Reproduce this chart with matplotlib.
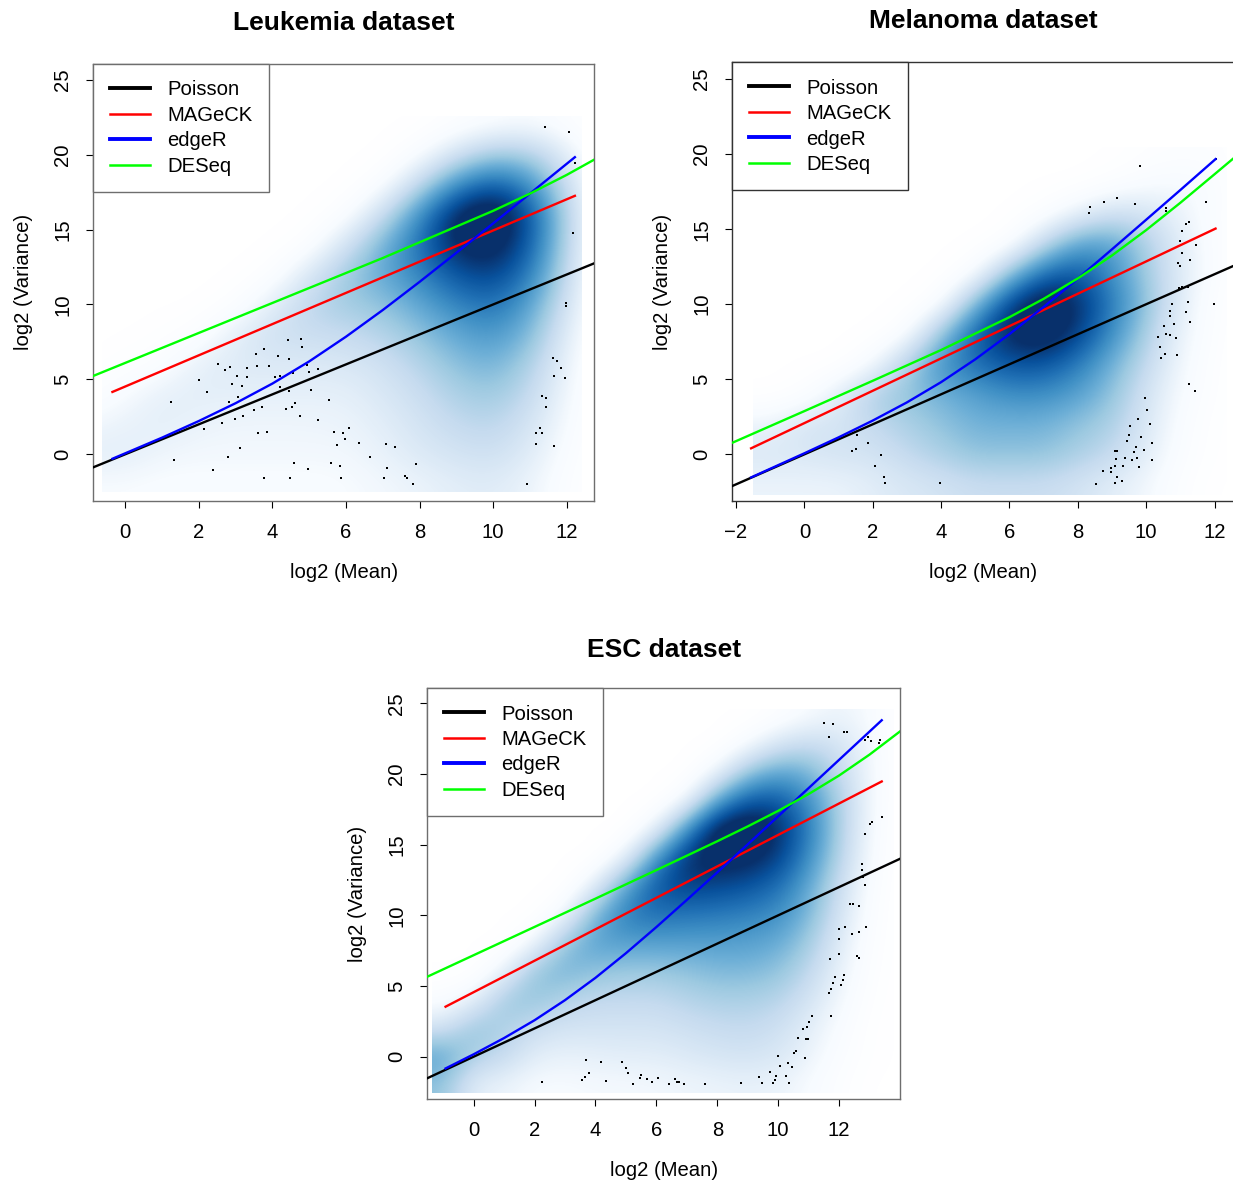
import numpy as np
import matplotlib
matplotlib.use("Agg")
import matplotlib.pyplot as plt
from matplotlib.colors import LinearSegmentedColormap
from matplotlib.lines import Line2D
from matplotlib.patches import Rectangle

# ---------------- data ----------------
legend_labels = ["Poisson", "MAGeCK", "edgeR", "DESeq"]
yticks = [0, 5, 10, 15, 20, 25]

# Poisson line: variance = mean  (intercept, slope in log2 space)
poisson_line = [0.0, 1.0]

# ---- Leukemia ----
leuk_title = "Leukemia dataset"
leuk_xticks = [0, 2, 4, 6, 8, 10, 12]
leuk_xlim = [-0.87, 12.74]
leuk_ylim = [-3.1, 26.05]
leuk_mageck_x = [-0.35, 12.22]
leuk_mageck_y = [4.16, 17.25]
leuk_edger_x = [-0.35, 1, 2, 3, 4, 5, 6, 7, 8, 9, 10, 11, 12.22]
leuk_edger_y = [-0.30, 1.11, 2.22, 3.41, 4.72, 6.20, 7.85, 9.63, 11.51, 13.45, 15.41, 17.40, 19.83]
leuk_deseq_x = [-0.87, 1, 3, 5, 7, 8, 9, 10, 11, 12, 12.77]
leuk_deseq_y = [5.23, 7.10, 9.10, 11.10, 13.10, 14.15, 15.20, 16.25, 17.40, 18.65, 19.70]
leuk_dots_x = [1.24, 1.33, 1.99, 2.21, 2.14, 2.38, 2.51, 2.64, 2.72, 2.79, 2.83, 2.85, 2.89, 2.99, 3.03,
               3.06, 3.11, 3.18, 3.21, 3.31, 3.32, 3.51, 3.56, 3.57, 3.60, 3.71, 3.78, 3.78, 3.86, 3.91,
               4.07, 4.16, 4.20, 4.21, 4.38, 4.41, 4.46, 4.46, 4.48, 4.54, 4.56, 4.58, 4.61, 4.74, 4.78,
               4.79, 4.94, 4.96, 4.99, 5.04, 5.23, 5.23, 5.53, 5.59, 5.66, 5.76, 5.83, 5.86, 5.91, 5.96,
               6.08, 6.34, 6.66, 7.04, 7.08, 7.10, 7.32, 7.60, 7.65, 7.83, 7.90, 10.93, 11.17, 11.26, 11.17,
               11.33, 11.34, 11.43, 11.43, 11.63, 11.73, 11.66, 11.84, 11.66, 11.95, 11.97, 11.97, 12.16,
               12.22, 11.42, 12.06]
leuk_dots_y = [3.47, -0.38, 4.96, 4.18, 1.69, -1.03, 6.03, 2.07, 5.61, -0.20, 3.51, 5.81, 4.71, 2.38, 5.25,
               3.83, 0.44, 4.56, 2.54, 5.78, 5.14, 2.94, 6.68, 5.87, 1.42, 3.16, 7.05, -1.56, 1.51, 5.89,
               5.14, 6.54, 5.25, 4.51, 3.00, 7.65, 4.23, 6.36, -1.56, 3.16, 5.45, -0.56, 3.42, 2.54, 7.72,
               7.18, 5.94, -1.00, 5.49, 4.31, 5.67, 2.31, 3.62, -0.56, 1.51, 0.60, -0.76, -1.58, 1.42, 1.00,
               1.74, 0.73, -0.16, -1.60, 0.69, -0.93, 0.51, -1.45, -1.60, -1.98, -0.65, -2.00, 1.40, 1.78, 0.69,
               1.40, 3.91, 3.74, 3.14, 6.45, 6.25, 5.25, 5.74, 0.57, 5.11, 10.08, 9.90, 14.79,
               19.43, 21.87, 21.54]
# smoothed density, shade level 0 (white) .. 9 (darkest); columns x=-1..13, rows y=22..-2 (step 2)
leuk_dens_x = [-1, 13]
leuk_dens_y = [-2, 22]
leuk_dens_bounds = [-0.63, 12.4, -2.5, 22.6]
leuk_density = [
    [0, 0, 0, 0, 0, 0, 0, 0, 0, 0, 0.3, 0.6, 0.8, 0.4, 0],
    [0, 0, 0, 0, 0, 0, 0, 0, 0, 0.6, 2.0, 3.2, 3.0, 1.5, 0],
    [0, 0, 0, 0, 0, 0, 0, 0, 0.5, 2.5, 5.0, 6.3, 5.0, 2.3, 0],
    [0, 0, 0, 0, 0, 0, 0, 0.4, 2.3, 5.0, 7.8, 8.8, 6.5, 2.8, 0],
    [0, 0, 0, 0, 0, 0, 0.3, 2.0, 4.0, 5.8, 7.8, 8.2, 6.3, 2.7, 0],
    [0, 0, 0, 0, 0, 0.3, 1.8, 3.3, 4.3, 5.3, 6.5, 7.0, 5.5, 2.4, 0],
    [0, 0, 0, 0, 0.3, 1.5, 2.7, 3.2, 3.5, 4.3, 5.3, 5.8, 4.5, 2.0, 0],
    [0, 0, 0.1, 0.4, 1.5, 2.2, 2.3, 2.4, 2.8, 3.5, 4.3, 4.8, 3.8, 1.5, 0],
    [0, 0.2, 0.5, 1.4, 1.7, 1.7, 1.7, 1.8, 2.1, 2.8, 3.6, 4.0, 3.0, 1.2, 0],
    [0.3, 0.8, 1.4, 1.5, 1.4, 1.4, 1.4, 1.4, 1.8, 2.3, 3.0, 3.3, 2.5, 1.0, 0],
    [1.0, 1.3, 1.5, 1.2, 1.1, 1.1, 1.1, 1.2, 1.5, 2.0, 2.5, 2.7, 2.0, 0.8, 0],
    [1.5, 1.5, 1.1, 1.0, 1.0, 1.0, 1.0, 1.0, 1.3, 1.7, 2.0, 2.2, 1.6, 0.6, 0],
    [0.8, 0.8, 0.7, 0.7, 0.7, 0.7, 0.7, 0.8, 1.0, 1.2, 1.5, 1.6, 1.2, 0.4, 0],
]

# ---- Melanoma ----
mel_title = "Melanoma dataset"
mel_xticks = [-2, 0, 2, 4, 6, 8, 10, 12]
mel_xlim = [-2.11, 12.57]
mel_ylim = [-3.09, 26.12]
mel_mageck_x = [-1.56, 12.03]
mel_mageck_y = [0.40, 15.04]
mel_edger_x = [-1.56, 0, 1, 2, 3, 4, 5, 6, 7, 8, 9, 10, 11, 12.03]
mel_edger_y = [-1.54, 0.07, 1.13, 2.25, 3.46, 4.81, 6.33, 8.01, 9.82, 11.71, 13.66, 15.63, 17.61, 19.67]
mel_deseq_x = [-2.11, 0, 2, 4, 6, 7, 8, 9, 10, 11, 12, 12.57]
mel_deseq_y = [0.77, 2.88, 4.90, 6.95, 9.14, 10.36, 11.72, 13.25, 14.94, 16.76, 18.66, 19.75]
mel_dots_x = [1.55, 1.87, 1.39, 1.50, 2.25, 2.06, 2.33, 2.36, 3.97,
              9.81, 8.35, 8.33, 8.76, 9.16, 9.67, 10.57, 10.59, 11.74, 11.16, 11.24, 11.06, 11.00, 11.47,
              11.04, 11.27, 10.93, 11.00, 10.96, 11.22, 11.05, 10.77, 11.22, 10.69, 10.69, 11.16, 11.99,
              10.51, 10.81, 11.29, 10.36, 10.57, 10.69, 10.87, 10.41, 10.55, 10.90, 10.44, 12.03, 11.25, 11.44,
              9.98, 10.03, 9.76, 10.11, 9.54, 9.50, 9.86, 9.43, 10.17, 9.69, 9.08, 9.16, 9.94, 9.64, 9.39,
              9.60, 9.74, 10.16, 9.13, 9.32, 9.10, 8.96, 8.74, 9.78, 8.98, 9.16, 9.28, 9.08, 8.54]
mel_dots_y = [1.31, 0.77, 0.24, 0.35, -0.03, -0.78, -1.51, -1.91, -1.93,
              19.19, 16.48, 16.10, 16.83, 17.08, 16.68, 16.43, 16.20, 16.83, 15.36, 15.48, 14.86, 14.19, 13.94,
              13.41, 12.92, 12.74, 12.54, 11.10, 11.12, 11.15, 9.99, 10.13, 9.53, 9.21, 9.46, 9.99,
              8.53, 8.66, 8.79, 7.81, 8.01, 7.95, 7.75, 7.13, 6.66, 6.60, 6.40, 19.65, 4.66, 4.22,
              3.77, 2.95, 2.33, 2.02, 1.90, 1.29, 1.17, 0.91, 0.77, 0.47, 0.22, 0.22, 0.29, 0.17, -0.27,
              -0.40, -0.23, -0.38, -0.31, -0.76, -0.76, -0.93, -1.09, -0.85, -1.20, -1.49, -1.78, -1.93, -1.98]
mel_dens_x = [-1, 13]
mel_dens_y = [-2, 20]
mel_dens_bounds = [-1.5, 12.35, -2.7, 20.5]
mel_density = [
    [0, 0, 0, 0, 0, 0, 0, 0, 0, 0, 0, 0.2, 0.3, 0.3, 0],
    [0, 0, 0, 0, 0, 0, 0, 0, 0, 0, 0.3, 0.7, 0.9, 0.6, 0],
    [0, 0, 0, 0, 0, 0, 0, 0, 0.3, 1.3, 2.2, 2.0, 1.2, 0.5, 0],
    [0, 0, 0, 0, 0, 0, 0, 0.3, 2.5, 4.5, 4.5, 3.0, 1.5, 0.5, 0],
    [0, 0, 0, 0, 0, 0, 0.6, 3.5, 6.0, 6.5, 5.0, 3.2, 1.6, 0.5, 0],
    [0, 0, 0, 0, 0, 0.5, 3.8, 7.0, 8.5, 7.5, 5.5, 3.5, 1.5, 0.3, 0],
    [0, 0, 0, 0, 0.5, 3.5, 6.3, 7.8, 8.3, 7.0, 5.0, 3.0, 1.2, 0.3, 0],
    [0, 0, 0, 0.8, 3.0, 5.0, 5.8, 6.5, 6.5, 5.5, 4.0, 2.5, 1.0, 0.2, 0],
    [0, 0.3, 1.5, 3.0, 3.5, 4.0, 4.5, 5.0, 5.0, 4.5, 3.5, 2.0, 0.8, 0.2, 0],
    [1.2, 2.0, 2.0, 2.5, 3.0, 3.5, 4.0, 4.0, 4.0, 3.5, 3.0, 1.8, 0.6, 0.1, 0],
    [1.8, 1.8, 2.0, 2.0, 2.5, 3.0, 3.5, 3.5, 3.5, 3.0, 2.5, 1.5, 0.5, 0.1, 0],
    [1.2, 1.2, 1.2, 1.5, 1.8, 2.0, 2.3, 2.3, 2.3, 2.0, 1.5, 1.0, 0.3, 0, 0],
]

# ---- ESC ----
esc_title = "ESC dataset"
esc_xticks = [0, 2, 4, 6, 8, 10, 12]
esc_xlim = [-1.52, 14.0]
esc_ylim = [-2.99, 26.06]
esc_mageck_x = [-0.92, 13.4]
esc_mageck_y = [3.54, 19.47]
esc_edger_x = [-0.92, 0, 1, 2, 3, 4, 5, 6, 7, 8, 9, 10, 11, 12, 13.4]
esc_edger_y = [-0.83, 0.17, 1.32, 2.58, 4.00, 5.58, 7.32, 9.17, 11.09, 13.04, 15.02, 17.01, 19.00, 21.00, 23.80]
esc_deseq_x = [-1.52, 0, 2, 4, 6, 8, 9, 10, 11, 12, 13, 14.0]
esc_deseq_y = [5.66, 7.18, 9.18, 11.18, 13.20, 15.24, 16.29, 17.39, 18.58, 19.89, 21.37, 23.01]
esc_dots_x = [2.25, 3.56, 3.67, 3.80, 3.69, 4.19, 4.34, 4.87, 5.00, 5.08, 5.22, 5.46, 5.50, 5.68, 5.87,
              6.07, 6.42, 6.62, 6.69, 6.75, 6.92, 7.61, 8.78, 9.38, 9.47, 9.73, 9.82, 9.88, 9.93, 10.06,
              9.99, 10.26, 10.34, 10.31, 10.45, 10.52, 10.59, 10.66, 10.88, 10.81, 10.92, 10.99, 10.94, 11.02,
              11.10, 11.73, 11.68, 11.73, 11.81, 11.88, 12.05, 12.12, 12.17, 11.70, 12.01, 12.58, 12.66, 11.99,
              12.43, 12.66, 12.88, 11.99, 12.20, 12.36, 12.47, 12.66, 12.85, 12.78, 12.74, 12.74, 12.85, 13.02,
              13.07, 13.40, 11.52, 11.81, 11.66, 12.16, 12.27, 12.86, 12.96, 13.04, 13.32, 13.34]
esc_dots_y = [-1.79, -1.65, -1.41, -1.13, -0.26, -0.35, -1.72, -0.37, -0.78, -1.13, -1.93, -1.53, -1.27, -1.58, -1.81,
              -1.51, -1.95, -1.60, -1.81, -1.81, -1.91, -1.93, -1.88, -1.46, -1.84, -1.08, -1.84, -1.65, -1.37, -0.66,
              0.05, -1.37, -1.88, -0.42, -0.71, 0.24, 0.42, 1.30, -0.07, 1.94, 1.23, 1.23, 2.12, 2.48,
              2.88, 2.88, 4.53, 4.77, 5.19, 5.66, 5.07, 5.42, 5.76, 6.89, 7.26, 7.12, 6.96, 8.30,
              8.66, 8.84, 9.15, 9.01, 9.19, 10.78, 10.80, 10.66, 12.16, 12.69, 13.20, 13.60, 15.75, 16.46,
              16.60, 16.97, 23.58, 23.51, 22.63, 22.98, 22.98, 22.40, 22.63, 22.35, 22.16, 22.40]
esc_dens_x = [-1, 14]
esc_dens_y = [-2, 24]
esc_dens_bounds = [-1.36, 13.78, -2.6, 24.6]
esc_density = [
    [0, 0, 0, 0, 0, 0, 0, 0, 0, 0, 0, 0.3, 0.8, 1.2, 0.8, 0],
    [0, 0, 0, 0, 0, 0, 0, 0, 0, 0, 0.8, 2.0, 2.5, 2.0, 1.0, 0],
    [0, 0, 0, 0, 0, 0, 0, 0, 0, 1.2, 3.5, 4.5, 4.0, 2.5, 1.0, 0],
    [0, 0, 0, 0, 0, 0, 0, 0, 1.0, 4.5, 6.5, 6.5, 5.0, 3.0, 1.0, 0],
    [0, 0, 0, 0, 0, 0, 0, 1.3, 5.0, 8.3, 8.7, 7.5, 5.5, 3.0, 0.9, 0],
    [0, 0, 0, 0, 0, 0, 1.3, 5.0, 7.5, 8.0, 7.8, 7.0, 5.0, 2.8, 0.8, 0],
    [0, 0, 0, 0, 0, 1.5, 4.5, 6.5, 7.0, 6.8, 6.5, 5.8, 4.3, 2.3, 0.6, 0],
    [0, 0, 0, 0, 1.0, 4.0, 5.5, 5.8, 5.6, 5.5, 5.3, 5.0, 3.8, 2.0, 0.5, 0],
    [0, 0, 0, 1.0, 3.5, 4.5, 4.5, 4.5, 4.5, 4.5, 4.5, 4.2, 3.2, 1.6, 0.4, 0],
    [0, 0, 1.2, 3.5, 4.0, 3.5, 3.3, 3.3, 3.5, 3.8, 3.8, 3.5, 2.6, 1.3, 0.3, 0],
    [0.5, 1.3, 3.3, 3.5, 2.8, 2.5, 2.5, 2.5, 2.8, 3.0, 3.0, 2.8, 2.0, 1.0, 0.2, 0],
    [2.0, 3.5, 3.0, 2.3, 2.0, 2.0, 2.0, 2.0, 2.2, 2.4, 2.5, 2.2, 1.5, 0.7, 0.1, 0],
    [4.5, 3.0, 2.5, 1.5, 1.3, 1.4, 1.5, 1.5, 1.7, 1.9, 2.0, 1.8, 1.2, 0.5, 0.1, 0],
    [3.5, 1.5, 1.2, 0.8, 0.8, 0.9, 0.9, 1.0, 1.1, 1.2, 1.3, 1.2, 0.8, 0.3, 0, 0],
]

# ---------------- style ----------------
plt.rcParams['font.family'] = ['Liberation Sans', 'DejaVu Sans']
FS = 14.6
shade_colors = ["#FFFFFF", "#F7FBFF", "#DEEBF7", "#C6DBEF", "#9ECAE1",
                "#6BAED6", "#4292C6", "#2171B5", "#08519C", "#08306B"]
cmap = LinearSegmentedColormap.from_list("smooth_blues", shade_colors, N=256)
SHADE_MAX = 7.4   # level shown as darkest colour

W, H = 1233, 1181
fig = plt.figure(figsize=(W / 100, H / 100), dpi=100)


def px_axes(l, t, r, b):
    return [l / W, (H - b) / H, (r - l) / W, (b - t) / H]


def draw_panel(rect, title, title_pad, xticks, xlim, ylim, mx, my, ex, ey, dx, dy, ptx, pty,
               dens, dxr, dyr, bounds, spine_color):
    ax = fig.add_axes(rect)
    dens = np.asarray(dens, dtype=float)
    nrow, ncol = dens.shape
    hx = (dxr[1] - dxr[0]) / (ncol - 1) / 2
    hy = (dyr[1] - dyr[0]) / (nrow - 1) / 2
    im = ax.imshow(dens, extent=(dxr[0] - hx, dxr[1] + hx, dyr[0] - hy, dyr[1] + hy),
                   origin="upper", cmap=cmap, vmin=0, vmax=SHADE_MAX, aspect="auto",
                   interpolation="bicubic", interpolation_stage="data", zorder=0)
    clip = Rectangle((bounds[0], bounds[2]), bounds[1] - bounds[0], bounds[3] - bounds[2],
                     transform=ax.transData, facecolor="none", edgecolor="none")
    im.set_clip_path(clip)

    ax.scatter(ptx, pty, s=4.0, marker="s", c="black", linewidths=0, zorder=2)
    ax.axline((0, poisson_line[0]), slope=poisson_line[1], color="black", lw=1.7, zorder=3)
    ax.plot(mx, my, color="#FF0000", lw=1.7, zorder=3)
    ax.plot(ex, ey, color="#0000FF", lw=1.7, zorder=3)
    ax.plot(dx, dy, color="#00FF00", lw=1.7, zorder=3)

    ax.set_xlim(xlim)
    ax.set_ylim(ylim)
    ax.set_xticks(xticks)
    ax.set_yticks(yticks)
    ax.set_yticklabels([str(v) for v in yticks], rotation=90, va="center")
    ax.tick_params(axis="both", direction="out", length=5, width=0.8, colors="black",
                   labelsize=FS)
    ax.tick_params(axis="x", pad=11)
    ax.tick_params(axis="y", pad=10)
    for sp in ax.spines.values():
        sp.set_color(spine_color)
        sp.set_linewidth(1.0)
    ax.set_xlabel("log2 (Mean)", fontsize=FS, labelpad=15)
    ax.set_ylabel("log2 (Variance)", fontsize=FS, labelpad=15)
    ax.set_title(title, fontsize=19, fontweight="bold", pad=title_pad)

    handles = [Line2D([], [], color="black", lw=2.8),
               Line2D([], [], color="#FF0000", lw=1.8),
               Line2D([], [], color="#0000FF", lw=2.8),
               Line2D([], [], color="#00FF00", lw=1.8)]
    leg = ax.legend(handles, legend_labels, loc="upper left", bbox_to_anchor=(0, 1),
                    borderaxespad=0, fontsize=FS, frameon=True, fancybox=False,
                    framealpha=1, edgecolor=spine_color, handlelength=2.0,
                    handletextpad=0.85, borderpad=0.8, labelspacing=0.32)
    leg.get_frame().set_linewidth(1.0)
    leg.set_zorder(5)
    return ax


draw_panel(px_axes(93.3, 64, 594, 500.7), leuk_title, 24.5, leuk_xticks, leuk_xlim, leuk_ylim,
           leuk_mageck_x, leuk_mageck_y, leuk_edger_x, leuk_edger_y, leuk_deseq_x, leuk_deseq_y,
           leuk_dots_x, leuk_dots_y, leuk_density, leuk_dens_x, leuk_dens_y, leuk_dens_bounds, "#6e6e6e")
draw_panel(px_axes(732.3, 62.3, 1234, 500.7), mel_title, 24.5, mel_xticks, mel_xlim, mel_ylim,
           mel_mageck_x, mel_mageck_y, mel_edger_x, mel_edger_y, mel_deseq_x, mel_deseq_y,
           mel_dots_x, mel_dots_y, mel_density, mel_dens_x, mel_dens_y, mel_dens_bounds, "#333333")
draw_panel(px_axes(427.3, 688.3, 900, 1099), esc_title, 22.5, esc_xticks, esc_xlim, esc_ylim,
           esc_mageck_x, esc_mageck_y, esc_edger_x, esc_edger_y, esc_deseq_x, esc_deseq_y,
           esc_dots_x, esc_dots_y, esc_density, esc_dens_x, esc_dens_y, esc_dens_bounds, "#6e6e6e")

fig.savefig("out.png", dpi=100)
